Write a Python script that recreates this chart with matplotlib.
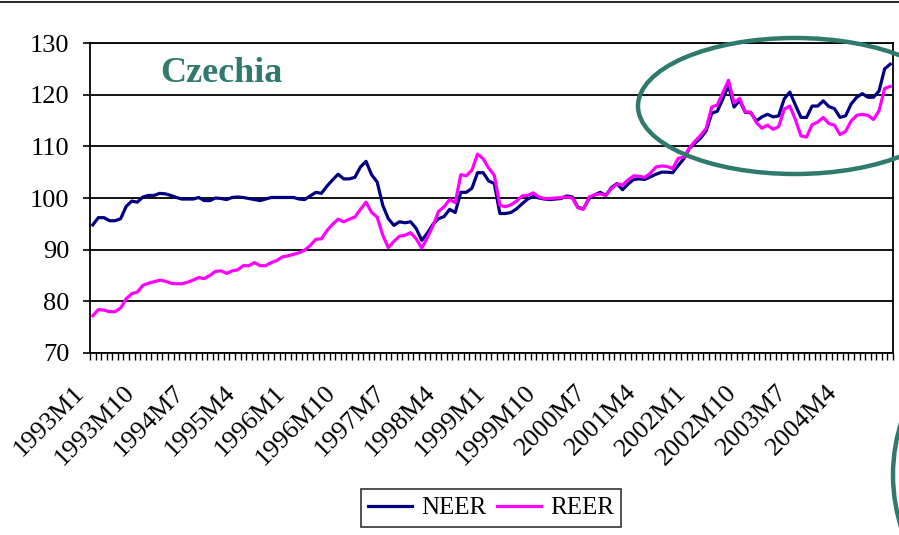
import numpy as np
import matplotlib
matplotlib.use("Agg")
import matplotlib.pyplot as plt
from matplotlib.patches import Ellipse
from matplotlib.lines import Line2D
from matplotlib.transforms import ScaledTranslation

plt.rcParams["font.family"] = ["Liberation Serif", "DejaVu Serif"]

# monthly index values, 1993M1 .. 2004M12
years = list(range(1993, 2005))
neer = [94.8, 96.2, 96.2, 95.6, 95.6, 96.0, 98.4, 99.4, 99.2, 100.2, 100.5, 100.5,
        100.9, 100.8, 100.5, 100.1, 99.8, 99.8, 99.8, 100.1, 99.5, 99.5, 100.0, 99.9,
        99.7, 100.1, 100.2, 100.1, 99.9, 99.7, 99.5, 99.8, 100.1, 100.1, 100.1, 100.1,
        100.1, 99.8, 99.7, 100.4, 101.1, 100.9, 102.3, 103.5, 104.6, 103.7, 103.7, 104.0,
        106.0, 107.1, 104.5, 103.1, 98.6, 96.0, 94.7, 95.4, 95.2, 95.4, 94.1, 91.8,
        93.2, 94.9, 96.0, 96.4, 97.8, 97.2, 101.1, 101.1, 101.9, 104.9, 104.9, 103.3,
        102.8, 97.0, 97.0, 97.2, 97.9, 98.9, 99.8, 100.3, 100.0, 99.8, 99.7, 99.8,
        99.9, 100.4, 100.2, 98.2, 97.9, 99.9, 100.6, 101.1, 100.5, 102.0, 102.8, 101.6,
        102.7, 103.6, 103.7, 103.6, 104.1, 104.6, 105.0, 105.0, 104.9, 106.3, 107.6, 109.6,
        110.6, 111.6, 113.0, 116.4, 116.8, 119.2, 121.8, 117.6, 118.9, 116.6, 116.5, 114.9,
        115.7, 116.2, 115.7, 115.9, 119.2, 120.5, 118.0, 115.6, 115.6, 117.8, 117.8, 118.8,
        117.7, 117.3, 115.6, 115.9, 118.2, 119.5, 120.2, 119.5, 119.5, 120.7, 125.0, 125.9]
reer = [77.2, 78.4, 78.3, 78.0, 78.0, 78.7, 80.5, 81.5, 81.8, 83.1, 83.5, 83.8,
        84.1, 83.9, 83.5, 83.4, 83.4, 83.7, 84.1, 84.6, 84.4, 85.0, 85.8, 85.9,
        85.4, 85.9, 86.1, 86.9, 86.9, 87.5, 86.9, 86.9, 87.5, 87.9, 88.6, 88.8,
        89.1, 89.4, 89.9, 90.8, 92.0, 92.1, 93.7, 94.9, 95.9, 95.4, 95.9, 96.3,
        97.8, 99.2, 97.2, 96.3, 92.8, 90.4, 91.6, 92.6, 92.8, 93.3, 92.1, 90.3,
        92.3, 94.6, 97.4, 98.3, 99.7, 99.1, 104.5, 104.3, 105.4, 108.5, 107.6, 105.8,
        104.4, 98.6, 98.3, 98.7, 99.4, 100.4, 100.5, 101.0, 100.2, 99.9, 99.9, 100.0,
        100.1, 100.2, 100.0, 98.1, 97.8, 100.2, 100.6, 100.8, 100.5, 101.8, 102.7, 102.5,
        103.5, 104.3, 104.2, 104.0, 104.8, 106.0, 106.2, 106.1, 105.7, 107.7, 107.9, 109.7,
        111.0, 112.1, 113.5, 117.6, 118.0, 120.4, 122.8, 118.4, 119.3, 116.7, 116.6, 114.6,
        113.5, 114.1, 113.3, 113.8, 117.2, 117.8, 115.2, 112.0, 111.8, 114.2, 114.7, 115.6,
        114.4, 114.1, 112.3, 112.9, 114.9, 116.0, 116.2, 116.0, 115.2, 116.9, 121.2, 121.6]
months = [f"{y}M{m}" for y in years for m in range(1, 13)]
label_step = 9
yticks = [70, 80, 90, 100, 110, 120, 130]

C_NEER, C_REER, C_TEAL = "#000080", "#FF00FF", "#2F7A6D"
FS = 19

fig = plt.figure(figsize=(8.99, 5.35), dpi=100)
ax = fig.add_axes([0.1001, 0.3402, 0.8932, 0.5794])
x = np.arange(len(months))
ax.plot(x, neer, color=C_NEER, lw=2.3, label="NEER", zorder=3)
ax.plot(x, reer, color=C_REER, lw=2.3, label="REER", zorder=3)

ax.set_xlim(-0.5, len(months) - 0.5)
ax.set_ylim(70, 130)
ax.set_yticks(yticks)
ax.tick_params(axis="y", labelsize=FS, length=5, width=1.2, direction="out", pad=10)
ax.yaxis.grid(True, color="black", lw=1.3)
ax.set_axisbelow(True)

# category boundaries as tick marks, labels every 9 months drawn as text
ax.set_xticks(np.arange(-0.5, len(months)))
ax.set_xticklabels([])
ax.tick_params(axis="x", length=5, width=1.0, direction="out")
off = ax.get_xaxis_transform() + ScaledTranslation(-12 / 100, -36 / 100, fig.dpi_scale_trans)
for i in x[::label_step]:
    ax.text(i, 0, months[i], transform=off, rotation=45, rotation_mode="anchor",
            ha="right", va="center", fontsize=FS)
for s in ax.spines.values():
    s.set_color("black"); s.set_linewidth(1.3)

ax.text(0.087, (353 - 82) / 310, "Czechia", transform=ax.transAxes, ha="left", va="baseline",
        fontsize=26, fontweight="bold", color=C_TEAL)

# highlight ellipses (pixel coordinates of the figure)
fig.patches.append(Ellipse((795 / 899, 1 - 106 / 535), 314 / 899, 136 / 535,
                           transform=fig.transFigure, fill=False, ec=C_TEAL, lw=3.2))
fig.patches.append(Ellipse((1023 / 899, 1 - 475 / 535), 260 / 899, 300 / 535,
                           transform=fig.transFigure, fill=False, ec=C_TEAL, lw=3.2))
fig.lines.append(Line2D([0, 1], [0.996, 0.996], transform=fig.transFigure, color="black", lw=1.2))

leg = fig.legend(loc="center", bbox_to_anchor=(491 / 899, 1 - 508 / 535), ncol=2,
                 fontsize=18, frameon=True, fancybox=False, edgecolor="black",
                 handlelength=1.75, handletextpad=0.35, columnspacing=0.45, borderpad=0.3)
leg.get_frame().set_linewidth(1.2)

fig.savefig("out.png", dpi=100)
